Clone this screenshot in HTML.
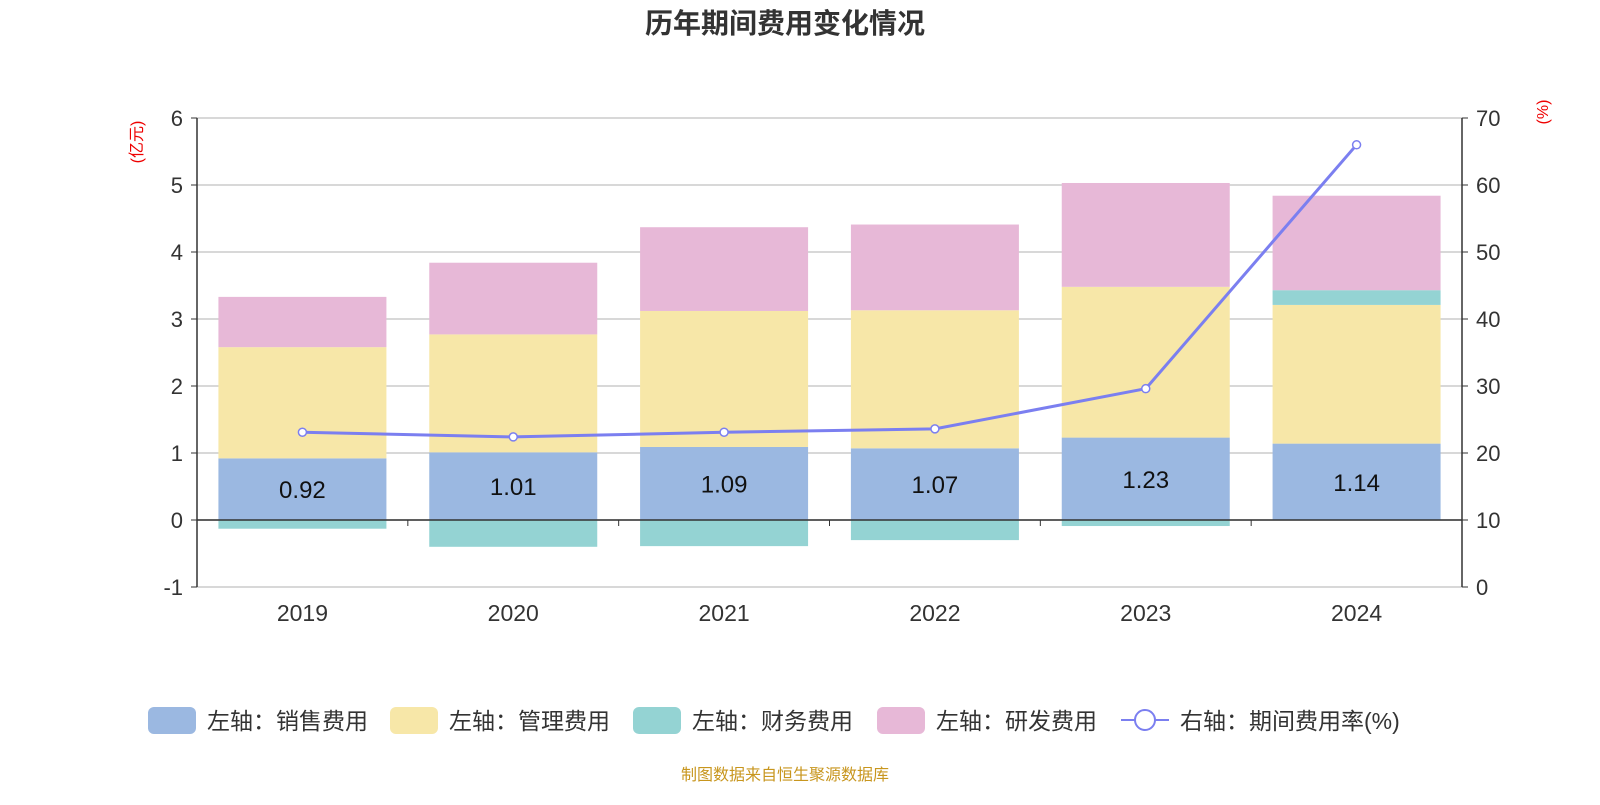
<!DOCTYPE html>
<html><head><meta charset="utf-8">
<style>
body{margin:0;background:#fff;}
svg text{font-family:"Liberation Sans","Noto Sans CJK SC",sans-serif;}
</style></head>
<body>
<svg id="chart" width="1600" height="800" xmlns="http://www.w3.org/2000/svg">
<text x="785" y="33" text-anchor="middle" font-size="28" font-weight="bold" fill="#333">历年期间费用变化情况</text>
<text transform="translate(142,142) rotate(-90)" text-anchor="middle" font-size="16" fill="#e00">(亿元)</text>
<text transform="translate(1548,112) rotate(-90)" text-anchor="middle" font-size="16" fill="#e00">(%)</text>
<g id="grid"></g><g id="bars"></g><g id="axes"></g><g id="line"></g>
<g id="legend"></g>
<text x="785" y="780" text-anchor="middle" font-size="16" fill="#c8961e">制图数据来自恒生聚源数据库</text>
</svg>
<script>
const years=["2019","2020","2021","2022","2023","2024"];
const sales=[0.92,1.01,1.09,1.07,1.23,1.14];
const mgmt=[1.66,1.76,2.03,2.06,2.25,2.07];
const finance=[-0.13,-0.40,-0.39,-0.30,-0.09,0.22];
const rnd=[0.75,1.07,1.25,1.28,1.55,1.41];
const rate=[23.1,22.4,23.1,23.6,29.6,66.0];
const leftTicks=[-1,0,1,2,3,4,5,6];
const rightTicks=[0,10,20,30,40,50,60,70];
const NS="http://www.w3.org/2000/svg";
const X0=197,X1=1462,TOP=118,BOT=587;
const yL=v=>520-(v)*(520-TOP)/6;
const yR=v=>BOT-v*(BOT-TOP)/70;
const bw=(X1-X0)/years.length;
const xc=i=>X0+bw*(i+0.5);
function mk(t,a,p){const e=document.createElementNS(NS,t);for(const k in a)e.setAttribute(k,a[k]);(p||document.getElementById('chart')).appendChild(e);return e;}
const grid=document.getElementById('grid'),bars=document.getElementById('bars'),axes=document.getElementById('axes'),line=document.getElementById('line'),leg=document.getElementById('legend');
leftTicks.forEach(t=>{
 const y=yL(t);
 const g=mk('line',{x1:X0,x2:X1,y1:y,y2:y,stroke:'#ccc','stroke-width':1.5},grid);
 
 
 const tx=mk('text',{x:X0-14,y:y+8,'text-anchor':'end','font-size':22,fill:'#333'},axes);tx.textContent=t;
 
 
 mk('line',{x1:X0-6,x2:X0,y1:y,y2:y,stroke:'#333'},axes);
});
rightTicks.forEach(t=>{
 const y=yR(t);
 const tx=mk('text',{x:X1+14,y:y+8,'font-size':22,fill:'#333'},axes);tx.textContent=t;
 
 
 mk('line',{x1:X1,x2:X1+6,y1:y,y2:y,stroke:'#333'},axes);
});
mk('line',{x1:X0,x2:X0,y1:TOP,y2:BOT,stroke:'#333','stroke-width':1.5},axes);
mk('line',{x1:X1,x2:X1,y1:TOP,y2:BOT,stroke:'#333','stroke-width':1.5},axes);
const colors=['#9bb8e1','#f7e7a8','#94d3d3','#e7b8d7'];
const series=[sales,mgmt,finance,rnd];
const snames=['sales','mgmt','finance','rnd'];
const bwid=168;
years.forEach((yr,i)=>{
 let pos=0,neg=0;
 series.forEach((s,k)=>{
  const v=s[i];let a,b;
  if(v>=0){a=pos;b=pos+v;pos=b;}else{a=neg;b=neg+v;neg=b;}
  const r=mk('rect',{x:xc(i)-bwid/2,width:bwid,y:Math.min(yL(a),yL(b)),height:Math.abs(yL(a)-yL(b)),fill:colors[k]},bars);
  
  
 });
 const lb=mk('text',{x:xc(i),y:(yL(0)+yL(sales[i]))/2+9,'text-anchor':'middle','font-size':24,fill:'#111'},bars);lb.textContent=sales[i].toFixed(2);
 
 
 const xl=mk('text',{x:xc(i),y:621,'text-anchor':'middle','font-size':23,fill:'#333'},axes);xl.textContent=yr;
 
 
});
mk('line',{x1:X0,x2:X1,y1:yL(0),y2:yL(0),stroke:'#333','stroke-width':1.5},axes);
for(let i=0;i<=years.length;i++){const x=X0+bw*i;mk('line',{x1:x,x2:x,y1:yL(0),y2:yL(0)+6,stroke:'#333'},axes);}
mk('polyline',{points:rate.map((v,i)=>xc(i)+','+yR(v)).join(' '),fill:'none',stroke:'#7b7ff0','stroke-width':3},line);
rate.forEach((v,i)=>{const c=mk('circle',{cx:xc(i),cy:yR(v),r:4,fill:'#fff',stroke:'#7b7ff0','stroke-width':1.5},line);
 
 });
const lnames=['左轴：销售费用','左轴：管理费用','左轴：财务费用','左轴：研发费用'];
const lx=[148,390,633,877];
lnames.forEach((n,k)=>{
 const r=mk('rect',{x:lx[k],y:707,width:48,height:27,rx:6,fill:colors[k]},leg);
 
 
 const t=mk('text',{x:lx[k]+59,y:729,'font-size':23,fill:'#333'},leg);t.textContent=n;
 
 
});
mk('line',{x1:1121,x2:1169,y1:720,y2:720,stroke:'#7b7ff0','stroke-width':2},leg);
mk('circle',{cx:1145,cy:720,r:10,fill:'#fff',stroke:'#7b7ff0','stroke-width':2},leg);
const lt=mk('text',{x:1180,y:729,'font-size':23,fill:'#333'},leg);lt.textContent='右轴：期间费用率(%)';


</script>
</body></html>
